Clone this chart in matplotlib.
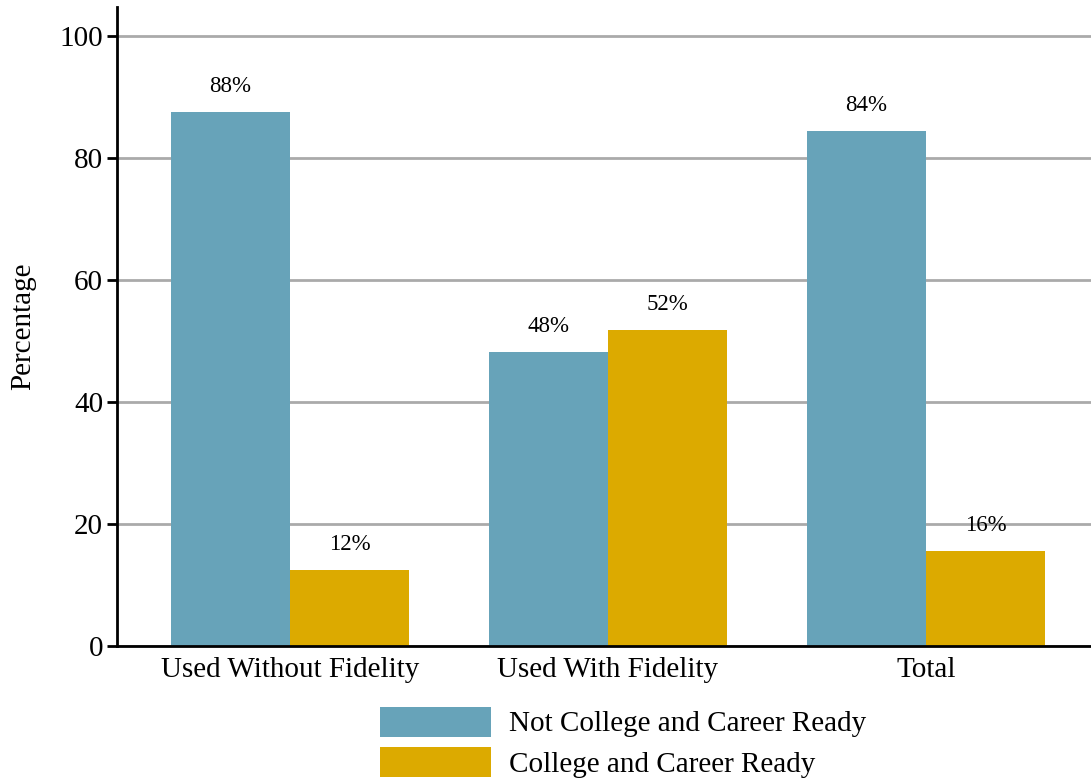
import numpy as np
import matplotlib.pyplot as plt
import matplotlib as mpl

categories = ['Used Without Fidelity', 'Used With Fidelity', 'Total']
not_ready = [87.6, 48.2, 84.4]
ready = [12.4, 51.8, 15.6]
series_names = ['Not College and Career Ready', 'College and Career Ready']

mpl.rcParams['font.family'] = ['Liberation Serif', 'DejaVu Serif']

fig = plt.figure(figsize=(10.91, 7.8), dpi=100)
ax = fig.add_axes([0.1072, 0.1718, 0.8928, 0.8192])

x = np.arange(len(categories))
w = 0.374
b1 = ax.bar(x - w / 2, not_ready, w, color='#67a3b9', label=series_names[0], zorder=2)
b2 = ax.bar(x + w / 2, ready, w, color='#dcaa00', label=series_names[1], zorder=2)

for bars, vals in [(b1, not_ready), (b2, ready)]:
    for rect, v in zip(bars, vals):
        ax.text(rect.get_x() + rect.get_width() / 2, v + 4.2, '%.0f%%' % v,
                ha='center', va='center', fontsize=16.5, zorder=3)

ax.set_xlim(-0.544, 2.519)
ax.set_ylim(0, 104.75)
ax.set_yticks([0, 20, 40, 60, 80, 100])
ax.set_xticks(x)
ax.set_xticklabels(categories)
ax.yaxis.grid(True, color='#aaaaaa', linewidth=2, zorder=0)
ax.set_axisbelow(True)
for s in ['top', 'right']:
    ax.spines[s].set_visible(False)
ax.spines['left'].set_linewidth(2)
ax.spines['bottom'].set_linewidth(2)
ax.tick_params(axis='y', length=7, width=2, labelsize=21, pad=3)
ax.tick_params(axis='x', length=0, labelsize=21, pad=8)
ax.set_ylabel('Percentage', fontsize=21, labelpad=17)

fig.legend(loc='upper left', bbox_to_anchor=(0.348, 0.094), frameon=False,
           fontsize=21, handlelength=3.8, handleheight=1.2, handletextpad=0.62,
           labelspacing=0.34, borderaxespad=0, borderpad=0)

fig.savefig('out.png', dpi=100)
